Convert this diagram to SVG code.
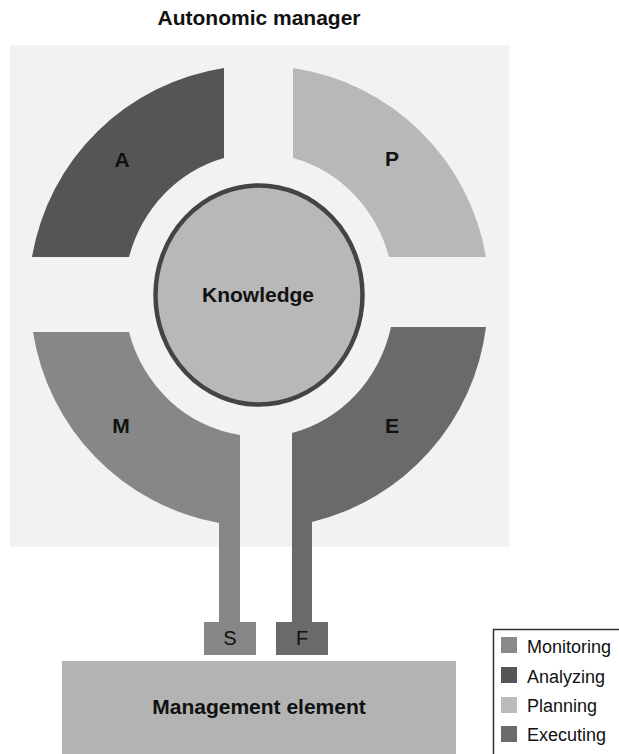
<svg xmlns="http://www.w3.org/2000/svg" width="619" height="754" viewBox="0 0 619 754">
<style>
.t{font-family:"Liberation Sans",Arial,sans-serif;fill:#111;}
.b{font-weight:bold;font-size:21px;text-anchor:middle;}
.lg{font-size:18px;}
.sf{font-size:20px;text-anchor:middle;}
.mon{fill:#878787;}
.ana{fill:#555555;}
.pla{fill:#b8b8b8;}
.exe{fill:#6a6a6a;}
</style>
<rect width="619" height="754" fill="#ffffff"/>
<text class="t b" x="259" y="25">Autonomic manager</text>
<g id="autonomic-manager">
<rect x="10" y="45" width="499" height="502" fill="#f2f2f2"/>
</g>
<g id="connectors">
<rect class="mon" x="219" y="500" width="21" height="123"/>
<rect class="exe" x="292" y="500" width="20" height="123"/>
</g>
<g id="analyzing">
<path class="ana" d="M32,257 A230,230 0 0 1 224,68 L224,158 A135,142 0 0 0 129,257 Z"/>
<text class="t b" x="122" y="167">A</text>
</g>
<g id="planning">
<path class="pla" d="M293,68 A230,230 0 0 1 486,257 L389,257 A135,142 0 0 0 293,158 Z"/>
<text class="t b" x="392" y="166">P</text>
</g>
<g id="monitoring">
<path class="mon" d="M33,332 L129,332 A135,142 0 0 0 240,435 L240,523 L219,523 A230,230 0 0 1 33,332 Z"/>
<text class="t b" x="121" y="433">M</text>
</g>
<g id="executing">
<path class="exe" d="M486,327 A230,230 0 0 1 312,522 L292,522 L292,433 A135,142 0 0 0 391,327 Z"/>
<text class="t b" x="392" y="433">E</text>
</g>
<g id="knowledge">
<ellipse cx="259" cy="295" rx="103.5" ry="109.5" fill="#b8b8b8" stroke="#444444" stroke-width="4.5"/>
<text class="t b" x="258" y="302">Knowledge</text>
</g>
<g id="sensor">
<rect class="mon" x="204" y="622" width="52" height="33"/>
<text class="t sf" x="230" y="645">S</text>
</g>
<g id="effector">
<rect class="exe" x="276" y="622" width="52" height="33"/>
<text class="t sf" x="302" y="645">F</text>
</g>
<g id="management-element">
<rect x="62" y="661" width="394" height="100" fill="#b3b3b3"/>
<text class="t b" x="259" y="714">Management element</text>
</g>
<g id="legend">
<rect x="493.5" y="629.5" width="140" height="140" fill="none" stroke="#333333" stroke-width="1.5"/>
<rect x="501" y="637" width="16" height="16" fill="#8a8a8a"/>
<text class="t lg" x="527" y="653">Monitoring</text>
<rect x="501" y="667" width="16" height="16" fill="#555555"/>
<text class="t lg" x="527" y="683">Analyzing</text>
<rect x="501" y="697" width="16" height="16" fill="#bbbbbb"/>
<text class="t lg" x="527" y="712">Planning</text>
<rect x="501" y="726" width="16" height="16" fill="#6b6b6b"/>
<text class="t lg" x="527" y="741">Executing</text>
</g>
</svg>
